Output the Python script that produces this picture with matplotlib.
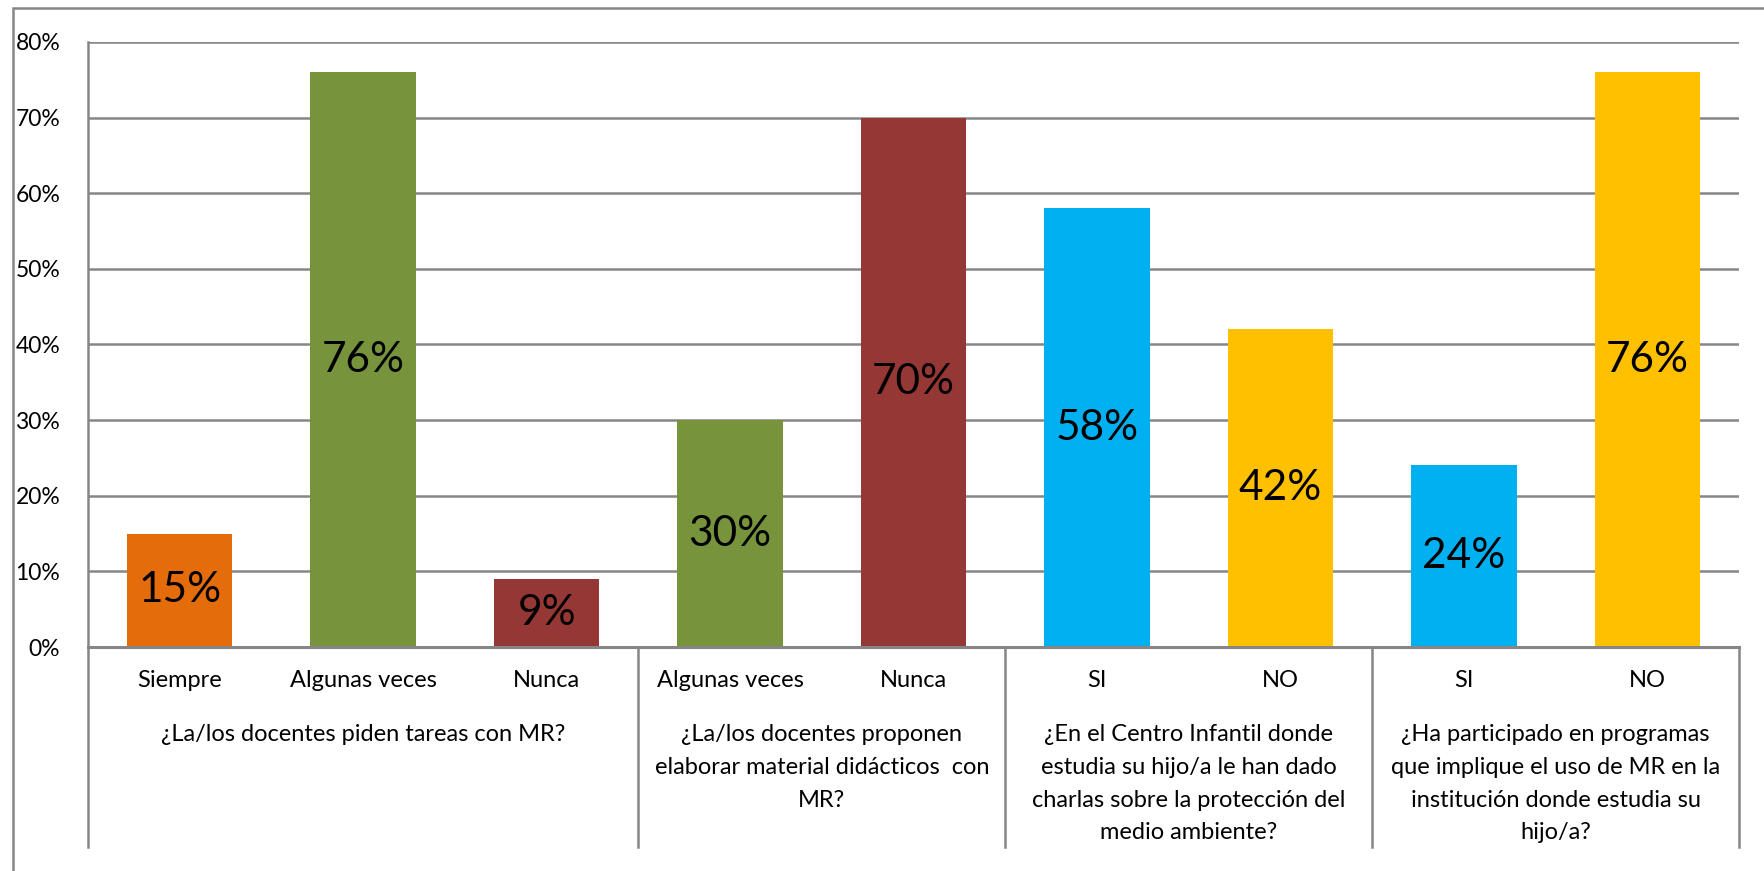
import matplotlib.pyplot as plt
import matplotlib.transforms as mtrans
from matplotlib.patches import Rectangle

# datos
categorias = ["Siempre", "Algunas veces", "Nunca", "Algunas veces", "Nunca",
              "SI", "NO", "SI", "NO"]
valores = [15, 76, 9, 30, 70, 58, 42, 24, 76]
colores = ["#E46C0A", "#77933C", "#953735", "#77933C", "#953735",
           "#00B0F0", "#FFC000", "#00B0F0", "#FFC000"]
grupos = ["¿La/los docentes piden tareas con MR?",
          "¿La/los docentes proponen\nelaborar material didácticos  con\nMR?",
          "¿En el Centro Infantil donde\nestudia su hijo/a le han dado\ncharlas sobre la protección del\nmedio ambiente?",
          "¿Ha participado en programas\nque implique el uso de MR en la\ninstitución donde estudia su\nhijo/a?"]
grupo_tam = [3, 2, 2, 2]
yticks = [0, 10, 20, 30, 40, 50, 60, 70, 80]

plt.rcParams['font.family'] = ['Lato', 'DejaVu Sans']
gris = "#868686"

fig = plt.figure(figsize=(17.65, 8.71), dpi=100)
ax = fig.add_axes([88/1765, 1-647/871, (1739-88)/1765, (647-42)/871])

x = list(range(len(valores)))
ax.bar(x, valores, width=0.575, color=colores, zorder=3)
for xi, v in zip(x, valores):
    ax.text(xi, v/2, f"{v}%", ha='center', va='center', fontsize=30.5, color='black', zorder=4)

ax.set_xlim(-0.5, len(valores)-0.5)
ax.set_ylim(0, 80)
ax.set_yticks(yticks)
ax.set_yticklabels([f"{t}%" for t in yticks], fontsize=16.5)
ax.tick_params(axis='y', length=0, pad=20)
ax.set_xticks([])
ax.grid(axis='y', color=gris, lw=1.8, zorder=0)
for s in ['top', 'right', 'bottom']:
    ax.spines[s].set_visible(False)
ax.spines['left'].set_color(gris)
ax.spines['left'].set_linewidth(1.8)
ax.axhline(0, color=gris, lw=2.2, zorder=5, clip_on=False)

trans = mtrans.blended_transform_factory(ax.transData, ax.transAxes)
abajo = -(847-647)/605
for xi, c in zip(x, categorias):
    ax.text(xi, -0.055, c, transform=trans, ha='center', va='center', fontsize=17)

inicio = -0.5
bordes = [inicio]
for g, n in zip(grupos, grupo_tam):
    centro = inicio + n/2
    ax.text(centro, -0.128, g, transform=trans, ha='center', va='top', fontsize=17,
            linespacing=1.68, multialignment='center')
    inicio += n
    bordes.append(inicio)
for b in bordes:
    ax.plot([b, b], [0, abajo], transform=trans, color=gris, lw=1.8, clip_on=False)

fig.add_artist(Rectangle((13/1765, -0.1), 1.2, 1-8/871+0.1, transform=fig.transFigure,
                         fill=False, edgecolor=gris, lw=1.8))

fig.savefig("out.png", dpi=100)
